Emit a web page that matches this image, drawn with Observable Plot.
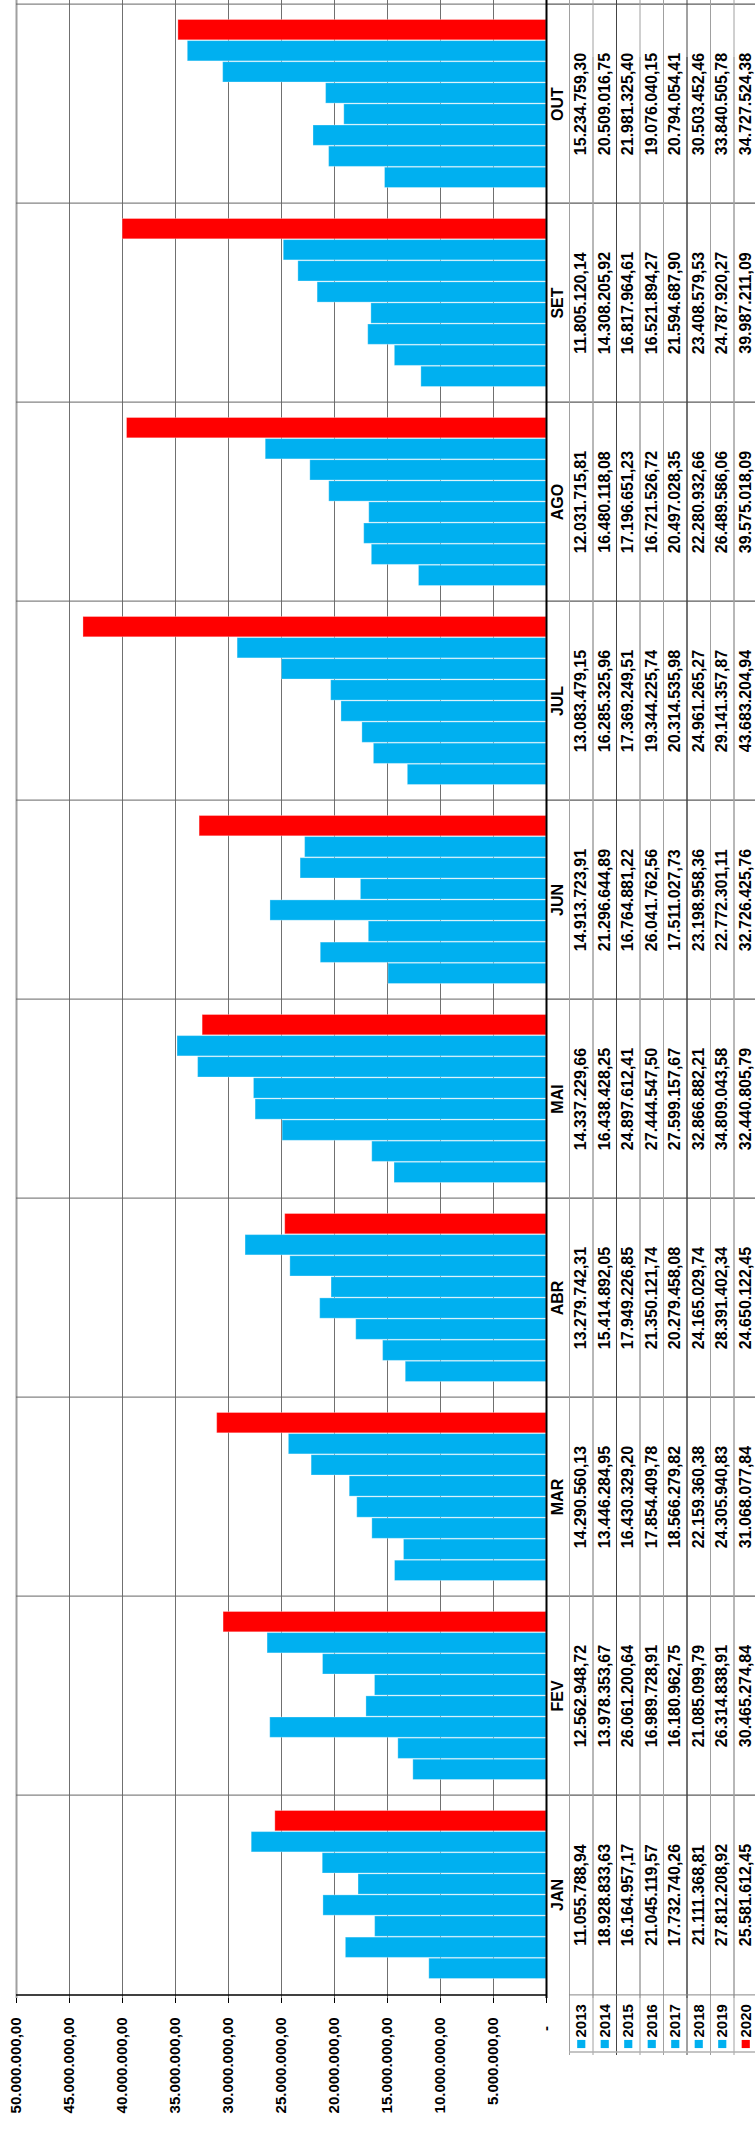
<!DOCTYPE html>
<html><head><meta charset="utf-8">
<script src="https://cdn.jsdelivr.net/npm/d3@7"></script>
<script src="https://cdn.jsdelivr.net/npm/@observablehq/plot@0.6"></script>
<style>body{margin:0;background:#fff}</style>
</head><body><div id="chart"></div>
<script>
const months = ["JAN","FEV","MAR","ABR","MAI","JUN","JUL","AGO","SET","OUT"];
const years = ["2013","2014","2015","2016","2017","2018","2019","2020"];
const v2013 = [11055788.94,12562948.72,14290560.13,13279742.31,14337229.66,14913723.91,13083479.15,12031715.81,11805120.14,15234759.30];
const v2014 = [18928833.63,13978353.67,13446284.95,15414892.05,16438428.25,21296644.89,16285325.96,16480118.08,14308205.92,20509016.75];
const v2015 = [16164957.17,26061200.64,16430329.20,17949226.85,24897612.41,16764881.22,17369249.51,17196651.23,16817964.61,21981325.40];
const v2016 = [21045119.57,16989728.91,17854409.78,21350121.74,27444547.50,26041762.56,19344225.74,16721526.72,16521894.27,19076040.15];
const v2017 = [17732740.26,16180962.75,18566279.82,20279458.08,27599157.67,17511027.73,20314535.98,20497028.35,21594687.90,20794054.41];
const v2018 = [21111368.81,21085099.79,22159360.38,24165029.74,32866882.21,23198958.36,24961265.27,22280932.66,23408579.53,30503452.46];
const v2019 = [27812208.92,26314838.91,24305940.83,28391402.34,34809043.58,22772301.11,29141357.87,26489586.06,24787920.27,33840505.78];
const v2020 = [25581612.45,30465274.84,31068077.84,24650122.45,32440805.79,32726425.76,43683204.94,39575018.09,39987211.09,34727524.38];
const xTicks = [0,5e6,10e6,15e6,20e6,25e6,30e6,35e6,40e6,45e6,50e6];
const blue = "#00B0F0", red = "#FF0000";

const series = [v2013,v2014,v2015,v2016,v2017,v2018,v2019,v2020];
const colors = years.map(y => y === "2020" ? red : blue);
const rows = months.map((m, i) => ({month: m, values: series.map(s => s[i])}));

const W = 755, H = 2132, mL = 16, mR = 209, mT = 0, mB = 134;
const bw = (H - mT - mB) / months.length;
const barH = 21.1;
const pad = (bw - barH * years.length) / 2;
const labelW = 23, colW = 23.5, legendH = 57;
const fmt = d3.formatLocale({decimal: ",", thousands: ".", grouping: [3], currency: ["", ""]}).format(",.2f");
const frameR = W - mR;
const pxToX = p => (frameR - p) / (W - mL - mR) * 50e6;
const edges = years.map((y, i) => frameR + labelW + colW * i);
const darkEdges = edges.filter((e, i) => i === 2 || i === 5);
const lightEdges = edges.filter((e, i) => i !== 2 && i !== 5);
const F = {fontFamily: "Liberation Sans, Arial, sans-serif", fontWeight: "bold", fontSize: 15, fill: "#000", lineAnchor: "middle"};

const marks = [];
// grid
marks.push(Plot.ruleX(xTicks.filter(t => t > 0 && t < 50e6), {x: d => d, stroke: "#707070", strokeWidth: 1}));
marks.push(Plot.ruleX([50e6], {x: d => d, stroke: "#a0a0a0", strokeWidth: 2}));
// bars
years.forEach((yr, k) => {
  const slot = years.length - 1 - k;
  marks.push(Plot.barX(rows, {
    y: "month", x: d => d.values[k], fill: colors[k],
    insetTop: pad + barH * slot, insetBottom: bw - pad - barH * (slot + 1),
    stroke: "#fff", strokeOpacity: 0.3, strokeWidth: 1
  }));
});
// month dividers across plot and table
marks.push(Plot.ruleY(months, {y: d => d, dy: -bw / 2, stroke: "#666", strokeWidth: 1}));
marks.push(Plot.ruleY(months, {y: d => d, dy: -bw / 2, x1: 0, x2: pxToX(W), stroke: "#333", strokeWidth: 1}));
// table column lines
marks.push(Plot.ruleX(lightEdges.map(pxToX), {x: d => d, stroke: "#a0a0a0", strokeWidth: 1}));
marks.push(Plot.ruleX(lightEdges.map(pxToX), {x: d => d, dy: legendH, stroke: "#a0a0a0", strokeWidth: 1}));
marks.push(Plot.ruleX(darkEdges.map(pxToX), {x: d => d, stroke: "#444", strokeWidth: 1}));
marks.push(Plot.ruleX(darkEdges.map(pxToX), {x: d => d, dy: legendH, stroke: "#444", strokeWidth: 1}));
// axis lines
marks.push(Plot.ruleY(["JAN"], {y: d => d, dy: bw / 2, stroke: "#000", strokeWidth: 1.5}));
marks.push(Plot.ruleY(["JAN"], {y: d => d, dy: bw / 2, x1: pxToX(edges[0]), x2: pxToX(W), stroke: "#888", strokeWidth: 1}));
marks.push(Plot.ruleY(["JAN"], {y: d => d, dy: bw / 2 + legendH, x1: pxToX(edges[0]), x2: pxToX(W), stroke: "#b0b0b0", strokeWidth: 1.5}));
marks.push(Plot.ruleX([0], {x: d => d, stroke: "#000", strokeWidth: 2}));
// month labels
marks.push(Plot.text(months, {y: d => d, text: d => d, frameAnchor: "right", dx: labelW / 2, rotate: -90, textAnchor: "middle", ...F, fontSize: 16}));
// table values + legend
years.forEach((yr, k) => {
  const cx = labelW + colW * k + colW / 2;
  marks.push(Plot.text(rows, {y: "month", text: d => fmt(d.values[k]), frameAnchor: "right", dx: cx, rotate: -90, textAnchor: "middle", ...F, fontSize: 16}));
  marks.push(Plot.text([yr], {text: d => d, frameAnchor: "bottom-right", dx: cx, dy: 39, rotate: -90, textAnchor: "start", ...F}));
  marks.push(Plot.dot([yr], {frameAnchor: "bottom-right", dx: cx, dy: 45.5, symbol: "square", r: 4.6, fill: colors[k], stroke: "none"}));
});
// value axis labels
marks.push(Plot.text(xTicks.filter(t => t > 0), {x: d => d, text: d => fmt(d), frameAnchor: "bottom", dy: 19, rotate: -90, textAnchor: "end", ...F}));
marks.push(Plot.text([0], {x: d => d, text: () => "-", frameAnchor: "bottom", dy: 27.5, rotate: -90, textAnchor: "end", ...F}));

const chart = Plot.plot({
  width: W, height: H,
  marginLeft: mL, marginRight: mR, marginTop: mT, marginBottom: mB,
  style: {background: "#fff", fontFamily: "Liberation Sans, Arial, sans-serif", fontSize: "15px", fontWeight: "bold", color: "#000"},
  x: {domain: [0, 50e6], reverse: true, ticks: xTicks, tickSize: 5, tickFormat: () => "", label: null},
  y: {type: "band", domain: months.slice().reverse(), padding: 0, axis: null},
  marks
});
document.getElementById("chart").appendChild(chart);
</script>
</body></html>
